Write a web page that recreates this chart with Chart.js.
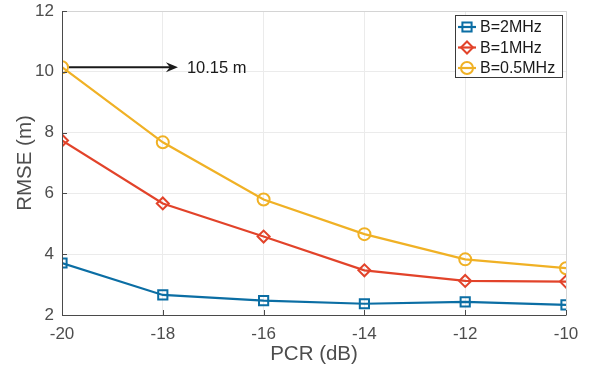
<!DOCTYPE html>
<html>
<head>
<meta charset="utf-8">
<script src="https://cdn.jsdelivr.net/npm/chart.js@4/dist/chart.umd.min.js"></script>
<style>
  html, body { margin: 0; padding: 0; background: #ffffff; }
  #wrap { width: 595px; height: 372px; }
</style>
</head>
<body>
<div id="wrap"><canvas id="c" width="595" height="372"></canvas></div>
<script>
// PCR values (dB) on the x axis
const pcr = [-20, -18, -16, -14, -12, -10];
// RMSE (m) for each bandwidth
const rmse2MHz  = [3.71, 2.66, 2.47, 2.37, 2.43, 2.33];
const rmse1MHz  = [7.74, 5.67, 4.58, 3.47, 3.12, 3.10];
const rmse05MHz = [10.15, 7.68, 5.80, 4.66, 3.83, 3.54];
const seriesNames = ['B=2MHz', 'B=1MHz', 'B=0.5MHz'];
// axis ranges and tick steps
const xRange = [-20, -10], xStep = 2;
const yRange = [2, 12], yStep = 2;
// callout: arrow from the first 0.5 MHz point, with its value
const calloutFrom = [pcr[0], rmse05MHz[0]];
const calloutToX = -17.7;
const calloutText = rmse05MHz[0].toFixed(2) + ' m';

const FONT = "'Liberation Sans', Arial, Helvetica, sans-serif";
const TICK_COLOR = '#4d4d4d';
const colors = ['#0b6ea4', '#e2432a', '#f0b125'];

function toXY(xs, ys) { return xs.map((x, i) => ({ x: x, y: ys[i] })); }

function makeSet(label, values, color, style, radius) {
  return {
    label: label,
    data: toXY(pcr, values),
    borderColor: color,
    backgroundColor: 'rgba(0,0,0,0)',
    borderWidth: 2.2,
    pointStyle: style,
    pointRadius: radius,
    pointHoverRadius: radius,
    pointBorderWidth: 2,
    pointBorderColor: color,
    pointBackgroundColor: 'rgba(0,0,0,0)',
    tension: 0,
    fill: false
  };
}

// frame, inward tick marks, callout arrow and boxed legend
const decorations = {
  id: 'decorations',
  afterDatasetsDraw(chart) {
    const ctx = chart.ctx;
    const a = chart.chartArea;
    const xs = chart.scales.x, ys = chart.scales.y;
    ctx.save();
    // light top/right frame
    ctx.strokeStyle = '#d4d4d4';
    ctx.lineWidth = 1;
    ctx.beginPath();
    ctx.moveTo(a.left, a.top + 0.5); ctx.lineTo(a.right + 0.5, a.top + 0.5);
    ctx.lineTo(a.right + 0.5, a.bottom);
    ctx.stroke();
    // dark left/bottom axes
    ctx.strokeStyle = '#4a4a4a';
    ctx.beginPath();
    ctx.moveTo(a.left + 0.5, a.top); ctx.lineTo(a.left + 0.5, a.bottom + 0.5);
    ctx.lineTo(a.right + 0.5, a.bottom + 0.5);
    ctx.stroke();
    // inward ticks
    ctx.beginPath();
    xs.ticks.forEach(t => {
      const px = Math.round(xs.getPixelForValue(t.value)) + 0.5;
      ctx.moveTo(px, a.bottom); ctx.lineTo(px, a.bottom - 5);
    });
    ys.ticks.forEach(t => {
      const py = Math.round(ys.getPixelForValue(t.value)) + 0.5;
      ctx.moveTo(a.left, py); ctx.lineTo(a.left + 5, py);
    });
    ctx.stroke();

    // callout arrow
    const x0 = xs.getPixelForValue(calloutFrom[0]) + 7;
    const y0 = ys.getPixelForValue(calloutFrom[1]);
    const x1 = xs.getPixelForValue(calloutToX);
    ctx.strokeStyle = '#1a1a1a';
    ctx.fillStyle = '#1a1a1a';
    ctx.lineWidth = 2.2;
    ctx.beginPath();
    ctx.moveTo(x0, y0); ctx.lineTo(x1 - 6, y0);
    ctx.stroke();
    ctx.beginPath();
    ctx.moveTo(x1, y0);
    ctx.lineTo(x1 - 12, y0 - 5);
    ctx.lineTo(x1 - 8, y0);
    ctx.lineTo(x1 - 12, y0 + 5);
    ctx.closePath();
    ctx.fill();
    ctx.font = '16.5px ' + FONT;
    ctx.textAlign = 'left';
    ctx.textBaseline = 'middle';
    ctx.fillText(calloutText, x1 + 9, y0 + 1);

    // legend box
    const bx = 455, by = 15, bw = 107, bh = 62;
    ctx.fillStyle = '#ffffff';
    ctx.fillRect(bx, by, bw, bh);
    ctx.strokeStyle = '#3a3a3a';
    ctx.lineWidth = 1;
    ctx.strokeRect(bx + 0.5, by + 0.5, bw, bh);
    chart.data.datasets.forEach((ds, i) => {
      const ly = by + 12 + i * 20.5;
      ctx.strokeStyle = ds.borderColor;
      ctx.lineWidth = 2.2;
      ctx.beginPath();
      ctx.moveTo(bx + 3, ly); ctx.lineTo(bx + 21, ly);
      ctx.stroke();
      ctx.lineWidth = 2;
      ctx.fillStyle = 'rgba(0,0,0,0)';
      Chart.helpers.drawPoint(ctx, {
        pointStyle: ds.pointStyle, radius: ds.pointRadius, rotation: 0, borderWidth: 2
      }, bx + 12, ly);
      ctx.fillStyle = '#1a1a1a';
      ctx.font = '16px ' + FONT;
      ctx.textAlign = 'left';
      ctx.textBaseline = 'middle';
      ctx.fillText(ds.label, bx + 25, ly + 1);
    });
    ctx.restore();
  }
};

new Chart(document.getElementById('c'), {
  type: 'line',
  data: {
    datasets: [
      makeSet(seriesNames[0], rmse2MHz, colors[0], 'rect', 6.5),
      makeSet(seriesNames[1], rmse1MHz, colors[1], 'rectRot', 6),
      makeSet(seriesNames[2], rmse05MHz, colors[2], 'circle', 6)
    ]
  },
  options: {
    responsive: false,
    animation: false,
    layout: { padding: { top: 11, right: 29, left: 0, bottom: 0 } },
    plugins: { legend: { display: false }, tooltip: { enabled: false } },
    scales: {
      x: {
        type: 'linear',
        min: xRange[0], max: xRange[1],
        border: { display: false },
        grid: { color: '#ebebeb', lineWidth: 1, drawTicks: false },
        ticks: { stepSize: xStep, padding: 9, color: TICK_COLOR, font: { family: FONT, size: 17 } },
        title: { display: true, text: 'PCR (dB)', color: TICK_COLOR,
                 font: { family: FONT, size: 20.5 }, padding: { top: 0, bottom: 5 } },
        afterFit(s) { s.height = 57; s.paddingLeft = 0; s.paddingRight = 0; }
      },
      y: {
        type: 'linear',
        min: yRange[0], max: yRange[1],
        border: { display: false },
        grid: { color: '#ebebeb', lineWidth: 1, drawTicks: false },
        ticks: { stepSize: yStep, padding: 8, color: TICK_COLOR, font: { family: FONT, size: 17 } },
        title: { display: true, text: 'RMSE (m)', color: TICK_COLOR,
                 font: { family: FONT, size: 20.5 }, padding: { top: 13, bottom: 0 } },
        afterFit(s) { s.width = 62; s.paddingTop = 0; s.paddingBottom = 0; }
      }
    }
  },
  plugins: [decorations]
});
</script>
</body>
</html>
